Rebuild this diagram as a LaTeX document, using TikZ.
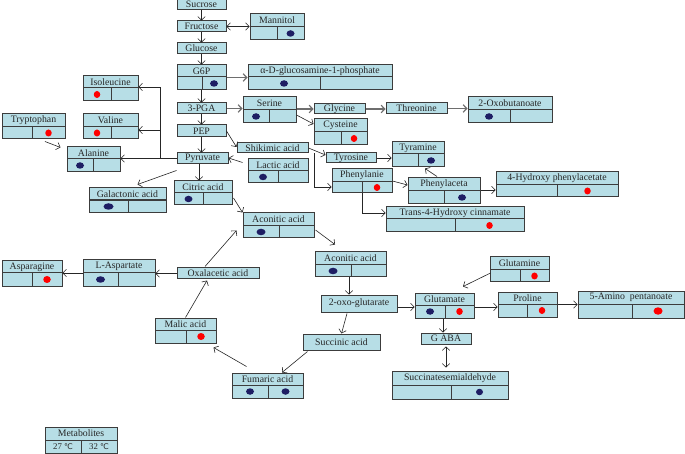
\documentclass[tikz,border=0pt]{standalone}
\usepackage{fontspec}
\setmainfont{Liberation Serif}
\newfontfamily\degfont{DejaVu Sans}
\usetikzlibrary{arrows.meta,calc,fit,shapes.geometric}
\definecolor{boxfill}{RGB}{183,222,230}
\definecolor{boxedge}{RGB}{60,60,60}
\definecolor{dotblue}{RGB}{30,30,100}
\definecolor{dotred}{RGB}{255,0,0}
\definecolor{arrgray}{RGB}{110,110,110}
\tikzset{
 boxsty/.style={draw=boxedge, fill=boxfill, line width=1pt, inner sep=0pt, rectangle},
 cellline/.style={draw=boxedge, line width=1pt},
 lbl/.style={inner sep=0pt, font=\fontsize{9.8}{10}\selectfont, text=black!85},
 bdot/.style={ellipse, fill=dotblue, inner sep=0pt, minimum width=8pt, minimum height=6.5pt},
 rdot/.style={ellipse, fill=dotred, inner sep=0pt, minimum width=6.5pt, minimum height=7pt},
 arr/.style={draw=black!85, line width=0.6pt, -{Straight Barb[length=3.5pt,width=7.5pt]}},
 darr/.style={draw=black!85, line width=0.6pt, {Straight Barb[length=3.5pt,width=7.5pt]}-{Straight Barb[length=3.5pt,width=7.5pt]}},
 garr/.style={draw=arrgray, line width=1.2pt, -{Straight Barb[length=3.5pt,width=7.5pt]}},
}
\newcommand{\onebox}[6]{%
  \node[boxsty, fit={(#2,#3) (#4,#5)}] (#1) {};
  \node[lbl] (#1-t) at (#1.center) {#6};
}
\newcommand{\twobox}[8]{%
  \node[boxsty, fit={(#2,#3) (#4,#5)}] (#1) {};
  \draw[cellline] (#2,#6) -- (#4,#6) (#7,#6) -- (#7,#5);
  \node[lbl] (#1-t) at ($(#2,#3)!0.5!(#4,#6)$) {#8};
  \coordinate (#1-l) at ($(#2,#6)!0.5!(#7,#5)$);
  \coordinate (#1-r) at ($(#7,#6)!0.5!(#4,#5)$);
}
\begin{document}
\begin{tikzpicture}[x=1pt,y=-1pt]
\useasboundingbox[fill=white] (0,0) rectangle (685,454);
% single boxes
\onebox{sucrose}{177}{-0.5}{226}{9.5}{Sucrose}
\onebox{fructose}{177}{21}{226}{32}{Fructose}
\onebox{glucose}{177}{43}{226}{54}{Glucose}
\onebox{pga}{177}{103}{226}{114}{3-PGA}
\onebox{pep}{177}{125}{226}{137}{PEP}
\onebox{pyruvate}{177}{153}{228}{164}{Pyruvate}
\onebox{shikimic}{237}{143}{308}{153}{Shikimic acid}
\onebox{glycine}{314}{104}{365}{114}{Glycine}
\onebox{threonine}{386}{103}{447}{114}{Threonine}
\onebox{tyrosine}{326}{153}{376}{163}{Tyrosine}
\onebox{oxo}{321}{295}{397}{312}{2-oxo-glutarate}
\onebox{gaba}{421}{333}{471}{344}{G ABA}
\onebox{succinic}{303}{334}{380}{350}{Succinic acid}
\onebox{oxal}{177}{268}{259}{279}{Oxalacetic acid}
% two-row boxes
\twobox{mannitol}{250}{14}{304}{40}{27}{277}{Mannitol}
\twobox{g6p}{177}{65}{226}{90}{77}{202}{G6P}
\twobox{alpha}{248}{65}{392}{90}{77}{320}{α-D-glucosamine-1-phosphate}
\twobox{serine}{243}{97}{296}{123}{110}{269}{Serine}
\twobox{cysteine}{314}{119}{367}{145}{132}{341}{Cysteine}
\twobox{oxobut}{468}{97}{552}{123}{110}{510}{2-Oxobutanoate}
\twobox{isoleucine}{83}{76}{138}{101}{88}{111}{Isoleucine}
\twobox{valine}{83}{114}{138}{139}{127}{111}{Valine}
\twobox{tryptophan}{2}{114}{65}{139}{127}{32}{Tryptophan}
\twobox{alanine}{67}{147}{120}{172}{159}{93}{Alanine}
\twobox{lactic}{248}{159}{308}{183}{171}{278}{Lactic acid}
\twobox{tyramine}{392}{142}{444}{167}{154}{418}{Tyramine}
\twobox{phenylanie}{332}{169}{392}{193}{182}{362}{Phenylanie}
\twobox{phenylaceta}{408}{178}{480}{204}{191}{444}{Phenylaceta}
\twobox{hpa}{496}{172}{618}{197}{185}{557}{4-Hydroxy phenylacetate}
\twobox{trans}{386}{207}{524}{232}{219}{455}{Trans-4-Hydroxy cinnamate}
\twobox{galactonic}{89}{188}{166}{213}{200}{128}{Galactonic acid}
\draw[cellline, line width=1.8pt] (89,200) -- (166,200);
\twobox{citric}{174}{181}{232}{205}{193}{203}{Citric acid}
\twobox{acon1}{243}{213}{314}{238}{226}{279}{Aconitic acid}
\twobox{acon2}{315}{252}{386}{277}{265}{351}{Aconitic acid}
\twobox{glutamine}{490}{257}{549}{282}{270}{520}{Glutamine}
\twobox{glutamate}{415}{293}{474}{318}{305}{445}{Glutamate}
\twobox{proline}{498}{292}{557}{317}{304}{527}{Proline}
\twobox{amino}{578}{291}{684}{318}{304}{632}{5-Amino\ \ pentanoate}
\twobox{ssa}{392}{371}{508}{399}{385}{451}{Succinatesemialdehyde}
\twobox{asp}{83}{260}{155}{286}{273}{118}{L-Aspartate}
\twobox{asn}{2}{261}{62}{286}{273}{32}{Asparagine}
\twobox{malic}{155}{318}{216}{343}{330}{186}{Malic acid}
\twobox{fumaric}{232}{373}{303}{398}{385}{268}{Fumaric acid}
\twobox{legend}{45}{427}{117}{453}{440}{81}{Metabolites}
\node[lbl, font=\fontsize{8.8}{9}\selectfont] (legend-a) at (legend-l) {27 {\degfont\fontsize{7.8}{8}\selectfont ℃}};
\node[lbl, font=\fontsize{8.8}{9}\selectfont] (legend-b) at (legend-r) {32 {\degfont\fontsize{7.8}{8}\selectfont ℃}};
% dots
\node[bdot] (mannitol-d) at (mannitol-r) {};
\node[bdot] (g6p-d) at (g6p-r) {};
\node[bdot] (alpha-d) at (alpha-l) {};
\node[bdot] (serine-d) at (serine-l) {};
\node[rdot] (cysteine-d) at (cysteine-r) {};
\node[bdot] (oxobut-d) at (oxobut-l) {};
\node[rdot] (isoleucine-d) at (isoleucine-l) {};
\node[rdot] (valine-d) at (valine-l) {};
\node[rdot] (tryptophan-d) at (tryptophan-r) {};
\node[bdot] (alanine-d) at (alanine-l) {};
\node[bdot] (lactic-d) at (lactic-l) {};
\node[bdot] (tyramine-d) at (tyramine-r) {};
\node[rdot] (phenylanie-d) at (phenylanie-r) {};
\node[bdot] (phenylaceta-d) at (phenylaceta-r) {};
\node[rdot] (hpa-d) at (hpa-r) {};
\node[rdot] (trans-d) at (trans-r) {};
\node[bdot, minimum width=10pt] (galactonic-d) at (galactonic-l) {};
\node[bdot] (citric-d) at (citric-l) {};
\node[bdot, minimum width=9pt] (acon1-d) at (acon1-l) {};
\node[bdot, minimum width=9pt] (acon2-d) at (acon2-l) {};
\node[rdot] (glutamine-d) at (glutamine-r) {};
\node[bdot] (glutamate-dl) at (glutamate-l) {};
\node[rdot] (glutamate-dr) at (glutamate-r) {};
\node[rdot] (proline-d) at (proline-r) {};
\node[rdot, minimum width=9pt, minimum height=7.5pt] (amino-d) at (amino-r) {};
\node[bdot, minimum width=7pt] (ssa-d) at (ssa-r) {};
\node[bdot, minimum width=9pt] (asp-d) at (asp-l) {};
\node[rdot, minimum width=7.5pt] (asn-d) at (asn-r) {};
\node[rdot, minimum width=7.5pt] (malic-d) at (malic-r) {};
\node[bdot] (fumaric-dl) at (fumaric-l) {};
\node[bdot] (fumaric-dr) at (fumaric-r) {};
% connectors
\draw[arr] (sucrose) -- (fructose);
\draw[arr] (fructose) -- (glucose);
\draw[arr] (glucose) -- (g6p);
\draw[arr] (g6p) -- (pga);
\draw[arr] (pga) -- (pep);
\draw[arr] (pep.south) -- (pep.south |- pyruvate.north);
\draw[darr] (fructose.east) -- (mannitol.west |- fructose.east);
\draw[garr] (g6p.east) -- (alpha.west);
\draw[garr] (pga.east) -- (serine.west |- pga.east);
\draw[garr] (serine.east |- glycine.west) -- (glycine.west);
\draw[arr] (serine.east |- 0,115) -- (cysteine.west |- 0,124);
\draw[garr] (glycine.east) -- (threonine.west |- glycine.east);
\draw[garr] (threonine.east) -- (oxobut.west |- threonine.east);
\draw[arr] (pep.east |- 0,131) -- (shikimic.west |- 0,147);
\draw[arr] ($(lactic.north west)+(-5,4)$) -- (pyruvate.east |- 0,158);
\draw[arr] (pyruvate.west) -- (alanine.east |- pyruvate.west);
\coordinate (jb) at (pyruvate.west -| 160,0);
\draw[arr] (jb) |- (isoleucine.east |- 0,87);
\draw[arr] (jb |- 0,130) -- (valine.east |- 0,130);
\draw[arr] ($(tryptophan.south)+(11.5,2)$) -- ($(alanine.west)+(-6,-12)$);
\draw[arr] ($(pyruvate.south west)+(0,6)$) -- ($(galactonic.north)+(10,-3)$);
\draw[arr] (pyruvate.south -| 199,0) -- (citric.north -| 199,0);
\draw[arr] (shikimic.east) -- (tyrosine.west |- 0,155);
\draw[arr] (shikimic.south -| 314,0) |- (phenylanie.west |- 0,187);
\draw[arr] (tyrosine.east) -- (tyramine.west |- tyrosine.east);
\draw[arr] (phenylanie.east) -- (phenylaceta.west |- 0,185);
\draw[arr] ($(phenylaceta.north)+(-7,-1)$) -- ($(tyramine.south)+(7,1)$);
\draw[arr] (phenylaceta.east |- 0,190) -- (hpa.west |- 0,190);
\draw[arr] (phenylanie.south -| 362,0) |- (trans.west |- 0,213);
\draw[arr] ($(citric.east)+(1,5)$) -- (acon1.north west);
\draw[arr] ($(acon1.east)+(1,4.5)$) -- ($(acon2.north)+(-15.5,-7)$);
\draw[arr] (acon2.south -| 349,0) -- (oxo.north -| 349,0);
\draw[arr] (oxo.east |- 0,307) -- (glutamate.west |- 0,307);
\draw[arr] ($(glutamine.west)+(1,3.5)$) -- ($(glutamate.north)+(18.5,-6)$);
\draw[arr] (glutamate.east |- 0,307) -- (proline.west |- 0,307);
\draw[arr] (proline.east) -- (amino.west |- proline.east);
\draw[arr] (glutamate.south -| 443,0) -- (gaba.north -| 443,0);
\draw[darr, shorten <=2pt, shorten >=3pt] (gaba.south -| 446,0) -- (ssa.north -| 446,0);
\draw[arr] ($(oxo.south)+(-12,1)$) -- (succinic.north);
\draw[arr] ($(succinic.south west)+(5,1)$) -- ($(fumaric.north)+(14.5,0)$);
\draw[arr] ($(fumaric.north west)+(15,-6)$) -- ($(malic.south east)+(-3,4)$);
\draw[arr] (malic.north) -- ($(oxal.south)+(-11,1)$);
\draw[arr] ($(oxal.north)+(-13,-1)$) -- ($(acon1.south west)+(-6,-8)$);
\draw[arr] (oxal.west) -- (asp.east |- oxal.west);
\draw[arr] (asp.west) -- (asn.east |- asp.west);
\end{tikzpicture}
\end{document}
